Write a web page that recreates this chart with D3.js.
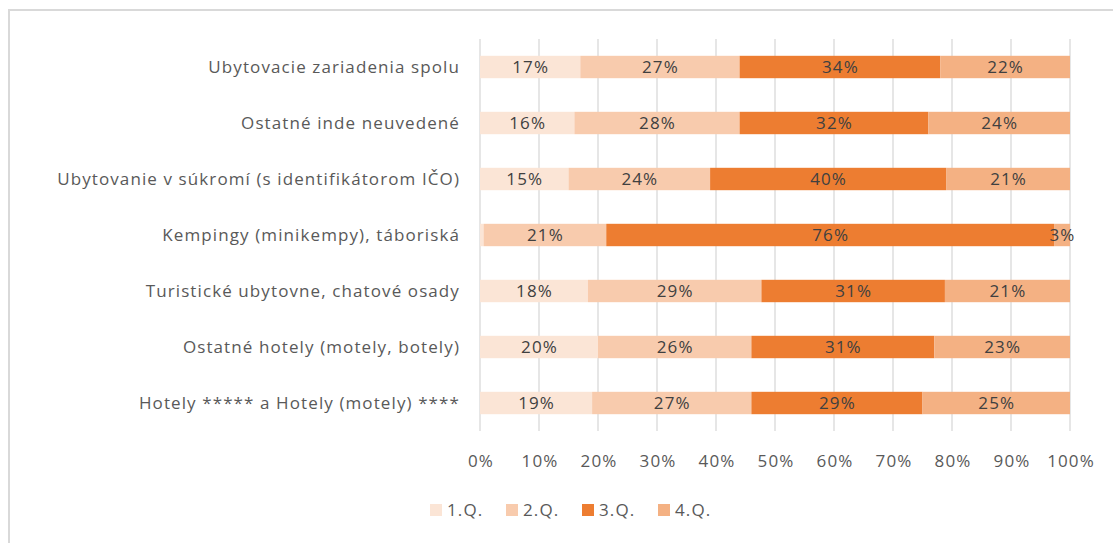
<!DOCTYPE html>
<html>
<head>
<meta charset="utf-8">
<script src="https://cdn.jsdelivr.net/npm/d3@7"></script>
<style>
  body { margin: 0; background: #fff; }
  svg { display: block; font-family: "Open Sans", Lato, sans-serif; }
  svg text { letter-spacing: 1.1px; }
</style>
</head>
<body>
<script>
// kategorie (zhora nadol)
var kategorie = [
  "Ubytovacie zariadenia spolu",
  "Ostatné inde neuvedené",
  "Ubytovanie v súkromí (s identifikátorom IČO)",
  "Kempingy (minikempy), táboriská",
  "Turistické ubytovne, chatové osady",
  "Ostatné hotely (motely, botely)",
  "Hotely ***** a Hotely (motely) ****"
];
var stvrtroky = ["1.Q.", "2.Q.", "3.Q.", "4.Q."];
var q1 = [17, 16, 15, 0.6, 18.3, 20, 19];
var q2 = [27, 28, 24, 20.8, 29.4, 26, 27];
var q3 = [34, 32, 40, 75.9, 31.1, 31, 29];
var q4 = [22, 24, 21, 2.7, 21.2, 23, 25];
var ticky = [0, 10, 20, 30, 40, 50, 60, 70, 80, 90, 100];
var farby = ["#FBE5D6", "#F8CBAD", "#ED7D31", "#F4B183"];

var sirka = 1113, vyska = 543;
var plocha = { left: 480, right: 1070, top: 39, bottom: 431 };

var svg = d3.select("body").append("svg")
  .attr("width", sirka)
  .attr("height", vyska);

// ramcek
svg.append("rect")
  .attr("x", 9).attr("y", 10)
  .attr("width", sirka + 20).attr("height", vyska + 20)
  .attr("fill", "none")
  .attr("stroke", "#D9D9D9")
  .attr("stroke-width", 2);

var data = kategorie.map(function(k, i) {
  return { kat: k, "1.Q.": q1[i], "2.Q.": q2[i], "3.Q.": q3[i], "4.Q.": q4[i] };
});

var x = d3.scaleLinear().domain([0, 100]).range([plocha.left, plocha.right]);
var y = d3.scaleBand().domain(kategorie)
  .range([plocha.top, plocha.bottom])
  .paddingInner(0.6).paddingOuter(0.3);

// mriezka
svg.append("g").selectAll("line").data(ticky).enter().append("line")
  .attr("x1", d => x(d)).attr("x2", d => x(d))
  .attr("y1", plocha.top).attr("y2", plocha.bottom)
  .attr("stroke", "#D9D9D9")
  .attr("stroke-width", 1.3);

var stack = d3.stack().keys(stvrtroky)(data);

var vrstvy = svg.append("g").selectAll("g").data(stack).enter().append("g")
  .attr("fill", (d, i) => farby[i]);

vrstvy.selectAll("rect").data(d => d).enter().append("rect")
  .attr("x", d => x(d[0]))
  .attr("y", d => y(d.data.kat))
  .attr("width", d => x(d[1]) - x(d[0]))
  .attr("height", y.bandwidth());

vrstvy.selectAll("text").data(d => d.filter(p => p[1] - p[0] >= 1)).enter().append("text")
  .attr("x", d => x((d[0] + d[1]) / 2) + 0.5)
  .attr("y", d => y(d.data.kat) + y.bandwidth() / 2)
  .attr("dy", "0.36em")
  .attr("text-anchor", "middle")
  .attr("fill", "#404040")
  .style("font-size", "17px")
  .text(d => Math.round(d[1] - d[0]) + "%");

// popisky kategorii
svg.append("g").selectAll("text").data(kategorie).enter().append("text")
  .attr("x", 460)
  .attr("y", d => y(d) + y.bandwidth() / 2)
  .attr("dy", "0.36em")
  .attr("text-anchor", "end")
  .attr("fill", "#595959")
  .style("font-size", "17px")
  .text(d => d);

// os x
var osX = d3.axisBottom(x).tickValues(ticky).tickSize(0).tickPadding(0)
  .tickFormat(d => d + "%");
var g = svg.append("g")
  .attr("transform", "translate(0," + 455 + ")")
  .call(osX);
g.select(".domain").remove();
g.selectAll("text")
  .attr("fill", "#595959")
  .attr("dy", "0.71em")
  .attr("dx", "0.5")
  .style("font-size", "17px")
  .style("font-family", "'Open Sans', Lato, sans-serif");

// legenda
var leg = svg.append("g").selectAll("g").data(stvrtroky).enter().append("g")
  .attr("transform", (d, i) => "translate(" + [430, 506, 582, 658][i] + ",510)");
leg.append("rect")
  .attr("x", 0).attr("y", -6)
  .attr("width", 12).attr("height", 12)
  .attr("fill", (d, i) => farby[i]);
leg.append("text")
  .attr("x", 17)
  .attr("dy", "0.36em")
  .attr("fill", "#595959")
  .style("font-size", "17px")
  .text(d => d);
</script>
</body>
</html>
